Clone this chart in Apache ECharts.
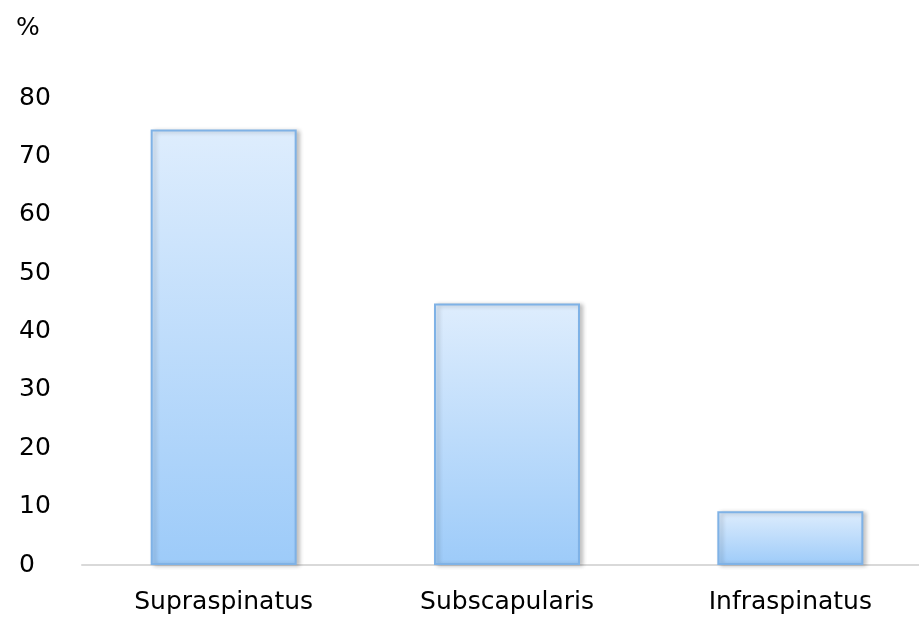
<!DOCTYPE html>
<html>
<head>
<meta charset="utf-8">
<script src="https://cdn.jsdelivr.net/npm/echarts@6/dist/echarts.min.js"></script>
<style>
  html, body { margin: 0; padding: 0; background: #ffffff; }
  #chart { width: 919px; height: 623px; }
</style>
</head>
<body>
<div id="chart"></div>
<script>
// Rotator cuff tendon involvement (%)
const categories = ['Supraspinatus', 'Subscapularis', 'Infraspinatus'];
const percentages = [74.6, 44.8, 9.2];
const yTicks = [0, 10, 20, 30, 40, 50, 60, 70, 80];

const FONT = '"DejaVu Sans", sans-serif';
const FS = 25;

const chart = echarts.init(document.getElementById('chart'), null, { renderer: 'canvas' });

chart.setOption({
  animation: false,
  backgroundColor: '#ffffff',
  title: {
    text: '%',
    left: 11,
    top: 11,
    textStyle: { fontFamily: FONT, fontSize: FS, fontWeight: 'normal', color: '#000' }
  },
  grid: { left: 82, top: 98, width: 850, bottom: 58, outerBoundsMode: 'none', containLabel: false },
  xAxis: {
    type: 'category',
    data: categories,
    boundaryGap: true,
    axisLine: { show: true, lineStyle: { color: '#d9d9d9', width: 2 } },
    axisTick: { show: false },
    axisLabel: { fontFamily: FONT, fontSize: FS, color: '#000', margin: 25 }
  },
  yAxis: {
    type: 'value',
    min: yTicks[0],
    max: yTicks[yTicks.length - 1],
    interval: 10,
    axisLine: { show: false },
    axisTick: { show: false },
    splitLine: { show: false },
    axisLabel: { fontFamily: FONT, fontSize: FS, color: '#000', align: 'left', margin: 63 }
  },
  series: [{
    type: 'bar',
    data: percentages,
    barWidth: 146,
    itemStyle: {
      color: new echarts.graphic.LinearGradient(0, 0, 0, 1, [
        { offset: 0, color: '#deedfd' },
        { offset: 1, color: '#9dcbf9' }
      ]),
      borderColor: '#7fb2e6',
      borderWidth: 2,
      shadowColor: 'rgba(0,0,0,0.22)',
      shadowBlur: 4,
      shadowOffsetX: 3,
      shadowOffsetY: 1
    }
  }]
});
</script>
</body>
</html>
